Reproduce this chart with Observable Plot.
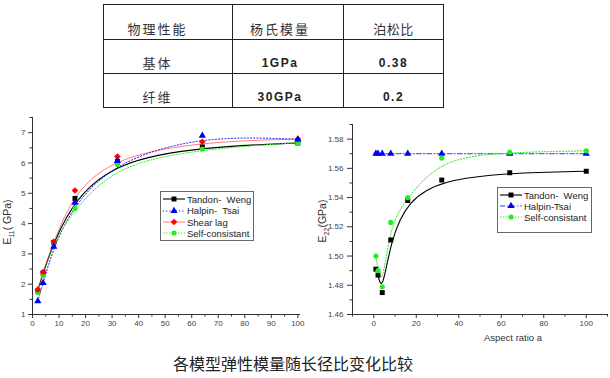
<!DOCTYPE html>
<html><head><meta charset="utf-8">
<script src="https://cdn.jsdelivr.net/npm/d3@7"></script>
<script src="https://cdn.jsdelivr.net/npm/@observablehq/plot@0.6"></script>
<style>
body{margin:0;background:#fff;}
#root{position:relative;width:610px;height:378px;overflow:hidden;font-family:"Liberation Sans",Arial,sans-serif;color:#222;}
#tbl{position:absolute;left:103px;top:4px;width:340px;border-collapse:collapse;table-layout:fixed;}
#tbl td{box-sizing:border-box;border:1px solid #222;padding:0 0 3px 0;vertical-align:bottom;text-align:center;white-space:nowrap;line-height:14px;overflow:visible;}
#tbl td.cjk{font-family:"Noto Sans CJK SC",sans-serif;font-size:13px;letter-spacing:2px;color:#333;}
#tbl td.num{font-family:"Liberation Sans",Arial,sans-serif;font-size:12px;font-weight:bold;letter-spacing:1.5px;}
.rot{position:absolute;transform:translate(-50%,-50%) rotate(-90deg);white-space:nowrap;font-size:10.5px;color:#333;}
.rot sub{font-size:7px;}
.xlab{position:absolute;transform:translate(-50%,-50%);white-space:nowrap;font-size:9.5px;color:#333;}
.legend{position:absolute;border:1px solid #666;box-sizing:border-box;background:#fff;}
.lrow{position:absolute;height:12px;display:flex;align-items:center;font-size:9.5px;white-space:pre;color:#222;}
.lrow svg{margin-right:2px;}
#caption{position:absolute;left:0;width:586px;top:353px;line-height:20px;text-align:center;font-family:"Noto Sans CJK SC",sans-serif;font-size:16px;color:#222;}
</style></head><body>
<div id="root"></div>
<script>
// ---------------- data ----------------
const tableHeader = ["物理性能", "杨氏模量", "泊松比"];
const tableMatrix = ["基体", "1GPa", "0.38"];
const tableFiber = ["纤维", "30GPa", "0.2"];

const aspectE11 = [2, 4, 8, 16, 32, 64, 100];
const e11TandonWeng = [1.78, 2.37, 3.38, 4.83, 6.05, 6.53, 6.66];
const e11HalpinTsai = [1.44, 2.04, 3.24, 4.69, 6.07, 6.90, 6.78];
const e11ShearLag = [1.82, 2.40, 3.40, 5.09, 6.21, 6.70, 6.79];
const e11SelfConsistant = [1.73, 2.29, 3.38, 4.50, 5.95, 6.46, 6.67];

const aspectE22 = [1, 2, 4, 8, 16, 32, 64, 100];
const e22TandonWeng = [1.491, 1.487, 1.475, 1.511, 1.538, 1.552, 1.557, 1.558];
const e22HalpinTsai = [1.570, 1.570, 1.570, 1.570, 1.570, 1.570, 1.570, 1.570];
const e22SelfConsistant = [1.500, 1.490, 1.479, 1.523, 1.540, 1.567, 1.571, 1.572];

const e11XTicks = [0, 10, 20, 30, 40, 50, 60, 70, 80, 90, 100];
const e11XMinorTicks = [5, 15, 25, 35, 45, 55, 65, 75, 85, 95];
const e11YTicks = [1, 2, 3, 4, 5, 6, 7];
const e11YMinorTicks = [1.5, 2.5, 3.5, 4.5, 5.5, 6.5, 7.5];
const e22XTicks = [0, 20, 40, 60, 80, 100];
const e22XMinorTicks = [-10, 10, 30, 50, 70, 90, 110];
const e22YTicks = [1.46, 1.48, 1.50, 1.52, 1.54, 1.56, 1.58];
const e22YMinorTicks = [1.47, 1.49, 1.51, 1.53, 1.55, 1.57, 1.59];

const e11Label = ["E", "11", "( GPa)"];
const e22Label = ["E", "22", "(GPa)"];
const xLabelRight = "Aspect ratio a";
const caption = "各模型弹性模量随长径比变化比较";

// ---------------- styles ----------------
const STY = {
  tandon:  {color:"#000000", symbol:"square",   r:2.8, dash:null,        width:1.1, opacity:1},
  halpinL: {color:"#0000ee", symbol:"triangle", r:2.7, dash:"1.2,2",     width:0.9, opacity:1},
  halpinR: {color:"#0000ee", symbol:"triangle", r:2.7, dash:"5,2,1.2,2", width:0.8, opacity:1},
  shear:   {color:"#ff0000", symbol:"diamond2", r:3.0, dash:null,        width:0.7, opacity:0.75},
  self:    {color:"#22ee22", symbol:"circle",   r:2.6, dash:"1.3,1.7",   width:1.0, opacity:1}
};

const leftSeries = [
  {name:"Tandon-  Weng", xs:aspectE11, ys:e11TandonWeng, s:STY.tandon},
  {name:"Halpin-  Tsai", xs:aspectE11, ys:e11HalpinTsai, s:STY.halpinL},
  {name:"Shear lag", xs:aspectE11, ys:e11ShearLag, s:STY.shear},
  {name:"Self-consistant", xs:aspectE11, ys:e11SelfConsistant, s:STY.self}
];
const rightSeries = [
  {name:"Tandon-  Weng", xs:aspectE22, ys:e22TandonWeng, s:STY.tandon},
  {name:"Halpin-Tsai", xs:aspectE22, ys:e22HalpinTsai, s:STY.halpinR},
  {name:"Self-consistant", xs:aspectE22, ys:e22SelfConsistant, s:STY.self}
];

const root = document.getElementById("root");

// ---------------- table ----------------
const tbl = document.createElement("table");
tbl.id = "tbl";
const colW = [129, 111, 100];
const rowH = [35, 34, 34];
const padR = [21, 16, 0];
[tableHeader, tableMatrix, tableFiber].forEach((row, ri) => {
  const tr = document.createElement("tr");
  row.forEach((txt, ci) => {
    const td = document.createElement("td");
    td.textContent = txt;
    td.className = (ri === 0 || ci === 0) ? "cjk" : "num";
    td.style.width = colW[ci] + "px";
    td.style.height = rowH[ri] + "px";
    td.style.paddingRight = padR[ci] + "px";
    if (ri === 0 && ci === 2) td.style.letterSpacing = "0.5px";
    tr.appendChild(td);
  });
  tbl.appendChild(tr);
});
root.appendChild(tbl);

// ---------------- charts ----------------
function chart(series, o) {
  const marks = [
    Plot.ruleX([o.xDomain[0]], {stroke:"#333", strokeWidth:1}),
    Plot.ruleY([o.yDomain[0]], {stroke:"#333", strokeWidth:1}),
    Plot.axisX(o.xMinor, {tickSize:2.5, text:null, stroke:"#333", label:null}),
    Plot.axisX(o.xTicks, {tickSize:4, tickPadding:2, stroke:"#333", fill:"#444", fontSize:8, label:null, tickFormat:o.xFmt}),
    Plot.axisY(o.yMinor, {tickSize:2.5, text:null, stroke:"#333", label:null}),
    Plot.axisY(o.yTicks, {tickSize:o.yTickSize, tickPadding:o.yTickPad, stroke:"#333", fill:"#444", fontSize:8, label:null, tickFormat:o.yFmt})
  ];
  for (const se of series) {
    const d = se.xs.map((x, i) => ({x, y: se.ys[i]}));
    marks.push(Plot.line(d, {x:"x", y:"y", stroke:se.s.color, strokeWidth:se.s.width,
      strokeDasharray:se.s.dash || undefined, strokeOpacity:se.s.opacity, curve:"basis"}));
  }
  for (const se of o.dotOrder.map(i => series[i])) {
    const d = se.xs.map((x, i) => ({x, y: se.ys[i]}));
    marks.push(Plot.dot(d, {x:"x", y:"y", symbol:se.s.symbol, r:se.s.r, fill:se.s.color, stroke:"none"}));
  }
  const el = Plot.plot({
    width:305, height:235,
    marginLeft:o.mL, marginRight:o.mR, marginTop:o.mT, marginBottom:31,
    x:{domain:o.xDomain}, y:{domain:o.yDomain},
    style:{background:"transparent", fontFamily:"'Liberation Sans', Arial, sans-serif", overflow:"visible"},
    marks
  });
  el.style.position = "absolute";
  el.style.top = "110px";
  el.style.left = o.left + "px";
  return el;
}

root.appendChild(chart(leftSeries, {
  left:0, mL:32, mR:5, mT:7,
  xDomain:[0, 101], yDomain:[1, 7.5],
  xTicks:e11XTicks, xMinor:e11XMinorTicks, yTicks:e11YTicks, yMinor:e11YMinorTicks,
  xFmt:d => String(d), yFmt:d => String(d), yTickSize:4, yTickPad:3,
  dotOrder:[0, 3, 2, 1]
}));
root.appendChild(chart(rightSeries, {
  left:305, mL:47, mR:3, mT:14,
  xDomain:[-10, 110], yDomain:[1.46, 1.59],
  xTicks:e22XTicks, xMinor:e22XMinorTicks, yTicks:e22YTicks, yMinor:e22YMinorTicks,
  xFmt:d => String(d), yFmt:d => d.toFixed(2), yTickSize:5, yTickPad:4,
  dotOrder:[1, 0, 2]
}));

// ---------------- labels ----------------
function rotLabel(parts, cx, cy) {
  const d = document.createElement("div");
  d.className = "rot";
  d.style.left = cx + "px"; d.style.top = cy + "px";
  d.innerHTML = parts[0] + "<sub>" + parts[1] + "</sub>" + parts[2];
  root.appendChild(d);
}
rotLabel(e11Label, 8, 222);
rotLabel(e22Label, 323, 221);
const xl = document.createElement("div");
xl.className = "xlab"; xl.style.left = "513px"; xl.style.top = "337px";
xl.textContent = xLabelRight;
root.appendChild(xl);

// ---------------- legends ----------------
function sampleSvg(s) {
  const ns = "http://www.w3.org/2000/svg";
  const svg = document.createElementNS(ns, "svg");
  svg.setAttribute("width", 22); svg.setAttribute("height", 12);
  const ln = document.createElementNS(ns, "line");
  ln.setAttribute("x1", 0); ln.setAttribute("x2", 22); ln.setAttribute("y1", 6); ln.setAttribute("y2", 6);
  ln.setAttribute("stroke", s.color); ln.setAttribute("stroke-width", s.width);
  ln.setAttribute("stroke-opacity", s.opacity);
  if (s.dash) ln.setAttribute("stroke-dasharray", s.dash);
  svg.appendChild(ln);
  const sym = {square:d3.symbolSquare, triangle:d3.symbolTriangle, diamond2:d3.symbolDiamond2, circle:d3.symbolCircle}[s.symbol];
  const p = document.createElementNS(ns, "path");
  p.setAttribute("d", d3.symbol(sym, Math.PI * s.r * s.r)());
  p.setAttribute("transform", "translate(11,6)");
  p.setAttribute("fill", s.color);
  svg.appendChild(p);
  return svg;
}
function legend(series, box, rows) {
  const b = document.createElement("div");
  b.className = "legend";
  Object.assign(b.style, {left:box[0] + "px", top:box[1] + "px", width:box[2] + "px", height:box[3] + "px"});
  root.appendChild(b);
  series.forEach((se, i) => {
    const r = document.createElement("div");
    r.className = "lrow";
    r.style.left = (box[0] + 3) + "px";
    r.style.top = (rows[i] - 6) + "px";
    r.appendChild(sampleSvg(se.s));
    const t = document.createElement("span");
    t.textContent = se.name;
    r.appendChild(t);
    root.appendChild(r);
  });
}
legend(leftSeries, [160, 191, 94, 50], [199, 210.5, 222, 233]);
legend(rightSeries, [497, 187, 95, 46], [195, 206, 217]);

const cap = document.createElement("div");
cap.id = "caption"; cap.textContent = caption;
root.appendChild(cap);
</script>
</body></html>
